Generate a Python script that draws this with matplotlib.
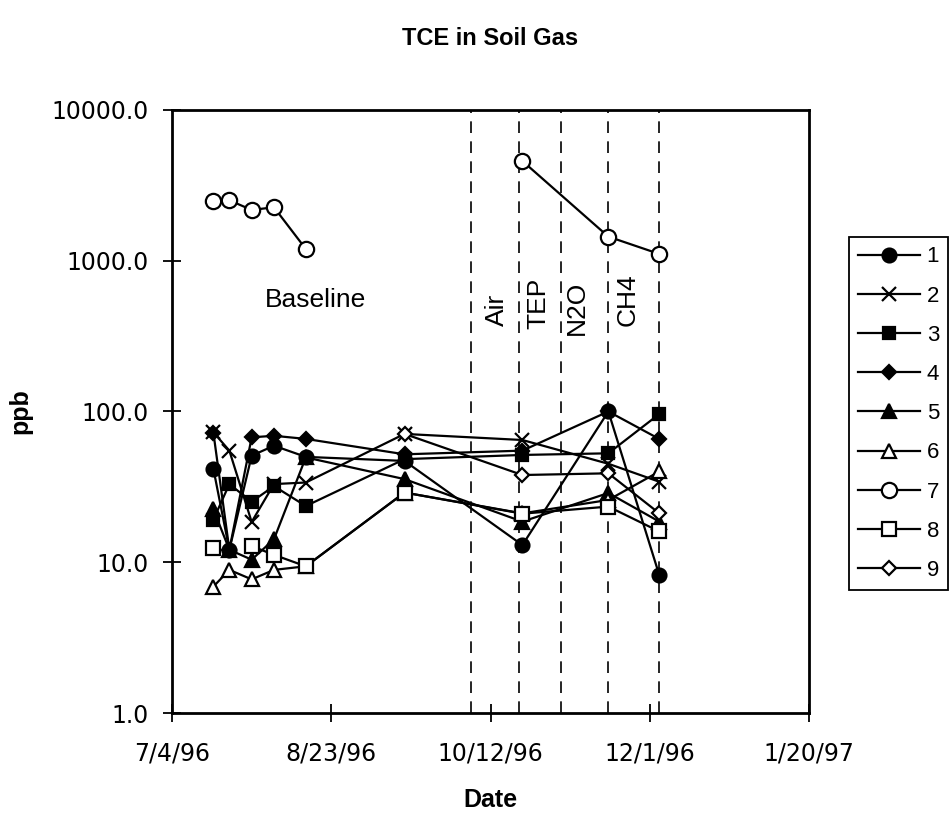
import numpy as np
import pandas as pd
import matplotlib
matplotlib.use('Agg')
import matplotlib.pyplot as plt

plt.rcParams['font.family'] = ['Liberation Sans', 'DejaVu Sans']

# sampling dates (baseline, then the injection campaign)
dates = pd.to_datetime(['1996-07-17', '1996-07-22', '1996-07-29', '1996-08-05', '1996-08-15',
                        '1996-09-15', '1996-10-22', '1996-11-18', '1996-12-04'])

nan = np.nan
# TCE in ppb per sampling point
s1 = [41.5, 12.1, 50.9, 59.3, 50.0, 47.0, 13.0, 100.0, 8.2]
s2 = [72.8, 55.0, 18.5, 33.0, 33.8, 71.0, 64.7, 45.0, 34.2]
s3 = [19.2, 33.0, 25.2, 32.0, 23.6, 48.3, 51.5, 52.8, 96.3]
s4 = [72.0, 12.1, 67.4, 69.0, 65.8, 52.0, 55.0, 100.0, 65.7]
s5 = [22.4, 12.1, 10.4, 14.2, 49.6, 35.6, 18.6, 28.8, 18.6]
s6 = [6.9, 8.9, 7.7, 8.9, 9.4, 29.0, 21.1, 25.9, 40.0]
s7 = [2490, 2518, 2172, 2263, 1197, nan, 4590, 1445, 1109]
s8 = [12.5, nan, 12.8, 11.2, 9.4, 29.0, 21.0, 23.4, 16.0]
s9 = [nan, nan, nan, nan, nan, 71.0, 37.9, 38.9, 21.1]

series = [s1, s2, s3, s4, s5, s6, s7, s8, s9]
labels = ['1', '2', '3', '4', '5', '6', '7', '8', '9']
markers = ['o', 'x', 's', 'D', '^', '^', 'o', 's', 'D']
filled = [True, True, True, True, True, False, False, False, False]
msizes = [10, 10, 9, 7, 10, 10, 11, 10, 7.5]

# treatment start lines and their labels
event_dates = pd.to_datetime(['1996-10-06', '1996-10-21', '1996-11-03', '1996-11-18', '1996-12-04'])
event_names = ['Air', 'TEP', 'N2O', 'CH4']
event_text_x = pd.to_datetime(['1996-10-14', '1996-10-27', '1996-11-08', '1996-11-24'])
event_text_y = [370, 355, 320, 370]

xticks = pd.to_datetime(['1996-07-04', '1996-08-23', '1996-10-12', '1996-12-01', '1997-01-20'])
xtick_labels = ['7/4/96', '8/23/96', '10/12/96', '12/1/96', '1/20/97']
yticks = [1, 10, 100, 1000, 10000]
ytick_labels = ['1.0', '10.0', '100.0', '1000.0', '10000.0']

fig = plt.figure(figsize=(9.51, 8.13), dpi=100)
ax = fig.add_axes([0.1809, 0.1230, 0.6698, 0.7417])

for vals, lab, m, f, ms in zip(series, labels, markers, filled, msizes):
    # gaps (nan) stay as breaks in the line, like the original
    ax.plot(dates, np.array(vals, dtype=float), color='black', lw=1.6, marker=m, ms=ms,
            mfc='black' if f else 'white', mec='black', mew=1.6, label=lab)

for d in event_dates:
    ax.axvline(d, color='black', lw=1.2, ls=(0, (7, 5)), zorder=0)

for name, tx, ty in zip(event_names, event_text_x, event_text_y):
    ax.text(tx, ty, name, rotation=90, ha='center', va='bottom', fontsize=19)

ax.text(pd.Timestamp('1996-08-18'), 549, 'Baseline', ha='center', va='center', fontsize=19)

ax.set_yscale('log')
ax.set_ylim(1, 10000)
ax.set_xlim(pd.Timestamp('1996-07-04'), pd.Timestamp('1997-01-20'))
ax.set_yticks(yticks)
ax.set_yticklabels(ytick_labels)
ax.yaxis.set_minor_locator(matplotlib.ticker.NullLocator())
ax.set_xticks(xticks)
ax.set_xticklabels(xtick_labels)
ax.tick_params(axis='both', direction='inout', length=13, width=1.3, labelsize=17)
ax.tick_params(axis='x', pad=14)
ax.tick_params(axis='y', pad=10)
for lbl in ax.get_xticklabels() + ax.get_yticklabels():
    lbl.set_family('DejaVu Sans')
for sp in ax.spines.values():
    sp.set_linewidth(2)

ax.set_xlabel('Date', fontsize=18, fontweight='bold', labelpad=16)
ax.set_ylabel('ppb', fontsize=18, fontweight='bold', labelpad=14)
fig.text(0.515, 0.953, 'TCE in Soil Gas', ha='center', va='center', fontsize=17, fontweight='bold')

leg = ax.legend(loc='upper left', bbox_to_anchor=(0.8927, 0.708), bbox_transform=fig.transFigure,
                borderaxespad=0, fontsize=16, handlelength=2.8, handletextpad=0.3,
                labelspacing=0.82, borderpad=0.4, fancybox=False, framealpha=1,
                edgecolor='black')
leg.get_frame().set_linewidth(1.3)

fig.savefig('out.png', dpi=100)
